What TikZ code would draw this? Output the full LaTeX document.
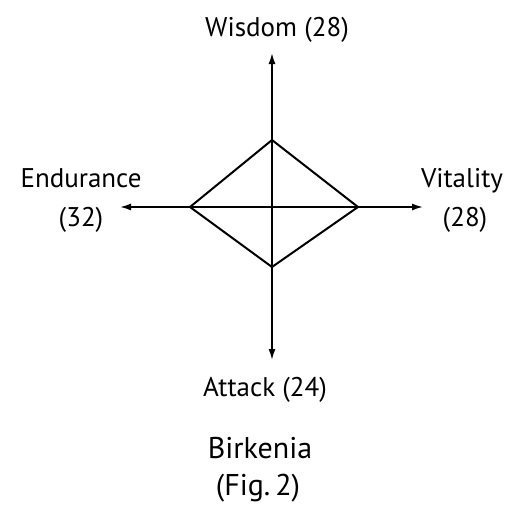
\documentclass[tikz,border=0pt]{standalone}
\usepackage{fontspec}
\setmainfont{PT Sans}
\usetikzlibrary{arrows.meta}
\begin{document}
\begin{tikzpicture}[x=1pt,y=-1pt]
    \tikzset{%
      axis/.style={line width=1.6pt, -{Latex[length=11pt,width=7pt]}},
      edge/.style={line width=2pt, line join=miter},
      lbl/.style={anchor=base, inner sep=0pt, font=\fontsize{27}{32}\selectfont},
      title/.style={anchor=base, inner sep=0pt, font=\fontsize{30}{36}\selectfont},
    }
    \useasboundingbox (0,0) rectangle (518,504);
    % axes
    \coordinate (O) at (272,207);
    \coordinate (N) at (272,53);
    \coordinate (S) at (272,360);
    \coordinate (W) at (120,207);
    \coordinate (E) at (423,207);
    \draw[axis] (O) -- (N);
    \draw[axis] (O) -- (S);
    \draw[axis] (O) -- (W);
    \draw[axis] (O) -- (E);

    % diamond
    \coordinate (Dn) at (272,140);
    \coordinate (De) at (358,207);
    \coordinate (Ds) at (272,267);
    \coordinate (Dw) at (190,207);
    \draw[edge] (Dn) -- (De) -- (Ds) -- (Dw) -- cycle;

    % labels
    \node[lbl] (wis) at (277,36) {Wisdom (28)};
    \node[lbl] (end) at (81,187) {Endurance};
    \node[lbl] (endv) at (81,226) {(32)};
    \node[lbl] (vit) at (462,187) {Vitality};
    \node[lbl] (vitv) at (465,226) {(28)};
    \node[lbl] (att) at (265,396) {Attack (24)};
    \node[title] (name) at (260,458) {Birkenia};
    \node[title] (fig) at (258,495) {(Fig.\,2)};
\end{tikzpicture}
\end{document}
